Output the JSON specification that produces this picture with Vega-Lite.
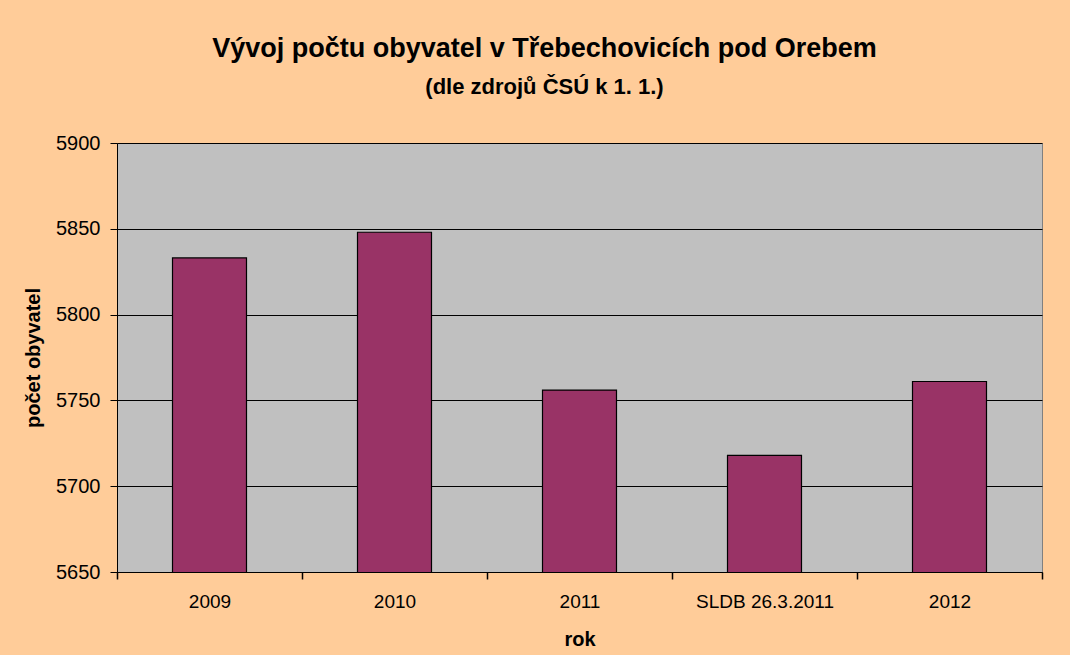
{
  "$schema": "https://vega.github.io/schema/vega-lite/v6.json",
  "width": 925,
  "height": 429,
  "autosize": {"type": "none"},
  "padding": {"left": 117, "top": 143, "right": 28, "bottom": 83},
  "background": "#FFCC99",
  "title": {
    "text": "Vývoj počtu obyvatel v Třebechovicích pod Orebem",
    "subtitle": "(dle zdrojů ČSÚ k 1. 1.)",
    "anchor": "middle",
    "frame": "group",
    "dx": -35,
    "offset": 34,
    "font": "Liberation Sans",
    "fontSize": 27,
    "fontWeight": "bold",
    "color": "#000000",
    "subtitleFont": "Liberation Sans",
    "subtitleFontSize": 22,
    "subtitleFontWeight": "bold",
    "subtitleColor": "#000000",
    "subtitlePadding": 14
  },
  "data": {
    "values": [
      {"rok": "2009", "pocet": 5833},
      {"rok": "2010", "pocet": 5848},
      {"rok": "2011", "pocet": 5756},
      {"rok": "SLDB 26.3.2011", "pocet": 5718},
      {"rok": "2012", "pocet": 5761}
    ]
  },
  "mark": {"type": "bar", "color": "#993366", "stroke": "#000000", "strokeWidth": 1.2, "clip": true},
  "encoding": {
    "x": {
      "field": "rok",
      "type": "nominal",
      "sort": null,
      "scale": {"paddingInner": 0.6, "paddingOuter": 0.3},
      "axis": {
        "title": "rok",
        "labelAngle": 0,
        "ticks": true,
        "bandPosition": 2.5,
        "tickOffset": -55.5,
        "labelOffset": 55.5,
        "tickExtra": true,
        "labelFont": "Liberation Sans",
        "labelFontSize": 19,
        "labelColor": "#000000",
        "labelPadding": 13,
        "titleFont": "Liberation Sans",
        "titleFontSize": 20,
        "titleFontWeight": "bold",
        "titleColor": "#000000",
        "titlePadding": 18,
        "domainColor": "#000000",
        "tickColor": "#000000",
        "tickWidth": 1.5,
        "tickSize": 7,
        "grid": false
      }
    },
    "y": {
      "field": "pocet",
      "type": "quantitative",
      "scale": {"domain": [5650, 5900], "zero": false, "nice": false},
      "axis": {
        "title": "počet obyvatel",
        "format": "d",
        "values": [5650, 5700, 5750, 5800, 5850, 5900],
        "labelFont": "Liberation Sans",
        "labelFontSize": 20,
        "labelColor": "#000000",
        "labelPadding": 10,
        "titleFont": "Liberation Sans",
        "titleFontSize": 20,
        "titleFontWeight": "bold",
        "titleColor": "#000000",
        "titlePadding": 12,
        "domainColor": "#000000",
        "tickColor": "#000000",
        "tickSize": 7,
        "grid": true,
        "gridColor": "#000000",
        "gridOpacity": 1,
        "gridWidth": 1
      }
    }
  },
  "config": {
    "view": {"fill": "#C0C0C0", "stroke": "#808080", "strokeWidth": 1}
  }
}
